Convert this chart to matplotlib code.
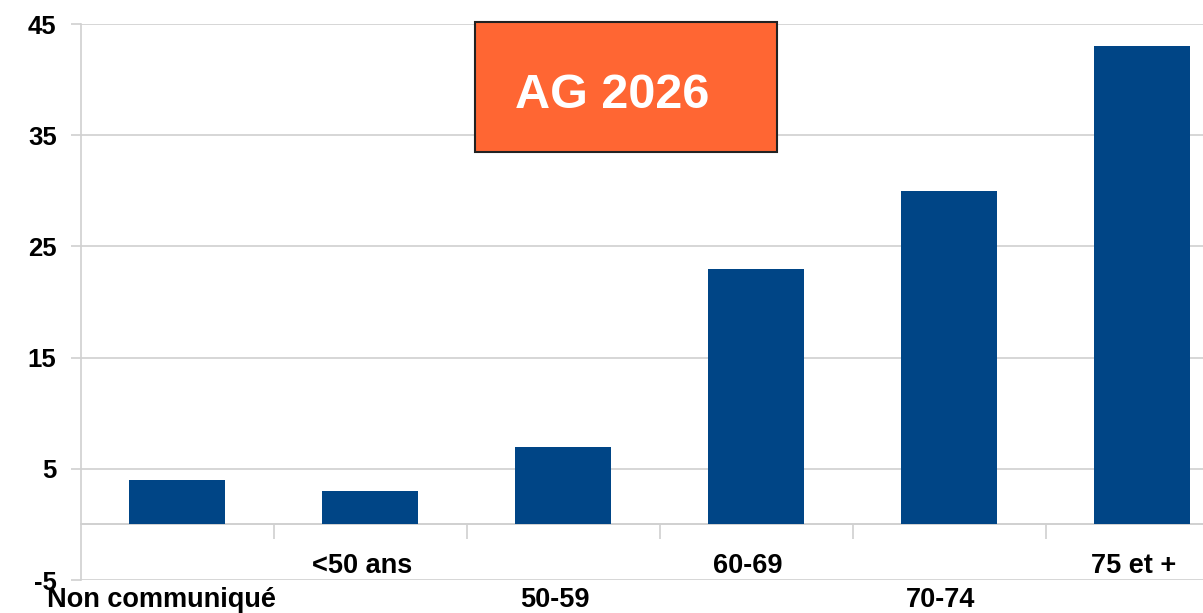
import matplotlib.pyplot as plt
from matplotlib.patches import Rectangle
from matplotlib.ticker import FixedLocator

# Data
categories = ['Non communiqué', '<50 ans', '50-59', '60-69', '70-74', '75 et +']
values = [4, 3, 7, 23, 30, 43]
y_ticks = [-5, 5, 15, 25, 35, 45]

plt.rcParams['font.family'] = ['Liberation Sans', 'DejaVu Sans']
plt.rcParams['axes.unicode_minus'] = False

W, H = 1203, 613
fig = plt.figure(figsize=(W / 100, H / 100), dpi=100)
ax = fig.add_axes([80.5 / W, 1 - 580 / H, 1 - 80.5 / W, (580 - 24) / H])

grid_col = '#d0d0d0'
x = list(range(len(categories)))
ax.bar(x, values, width=0.5, color='#004586', zorder=3)

ax.set_xlim(-0.5, -0.5 + (W - 80.5) / 193)
ax.set_ylim(-5, 45)

# horizontal grid lines
for t in y_ticks:
    ax.axhline(t, color=grid_col, lw=1.2, zorder=1)
ax.axhline(0, color=grid_col, lw=1.2, zorder=2)

ax.set_yticks(y_ticks)
ax.tick_params(axis='y', length=7.2, color=grid_col, width=1.2, pad=10,
               labelsize=18.5)
for lab in ax.get_yticklabels():
    lab.set_fontweight('bold')

# x axis drawn on the zero line with ticks at category boundaries
for s in ['top', 'right']:
    ax.spines[s].set_visible(False)
ax.spines['left'].set_color(grid_col)
ax.spines['left'].set_linewidth(1.2)
ax.spines['bottom'].set_position(('data', 0))
ax.spines['bottom'].set_color(grid_col)
ax.spines['bottom'].set_linewidth(1.2)
ax.xaxis.set_major_locator(FixedLocator([i + 0.5 for i in x]))
ax.tick_params(axis='x', length=10.8, color=grid_col, width=1.2,
               labelbottom=False, direction='out')

# staggered category labels
for i, cat in enumerate(categories):
    dy = -19.5 if i % 2 == 0 else 5
    dx = -11 if i == 0 else -6
    ax.annotate(cat, xy=(i, -5), xytext=(dx, dy), textcoords='offset points',
                ha='center', va='baseline', fontsize=19.5, fontweight='bold',
                annotation_clip=False)

# title box
fig.patches.append(Rectangle((475 / W, 1 - 152 / H), 302 / W, 130 / H,
                             transform=fig.transFigure, facecolor='#FF6633',
                             edgecolor='#222222', lw=1.5, zorder=5))
fig.text(612 / W, 1 - 108 / H, 'AG 2026', ha='center', va='baseline',
         fontsize=35, fontweight='bold', color='white', zorder=6)

fig.savefig('out.png', dpi=100)
